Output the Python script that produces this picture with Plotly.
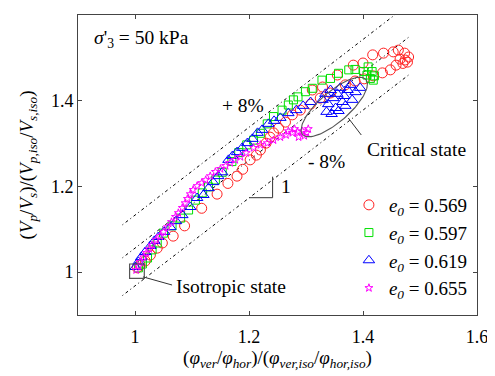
import numpy as np
import plotly.graph_objects as go

# ---------------- data ----------------
red_x = [1.004, 1.009, 1.018, 1.027, 1.039, 1.048, 1.067, 1.087, 1.117, 1.144, 1.163, 1.179, 1.189,
         1.202, 1.213, 1.220, 1.230, 1.237, 1.243, 1.252, 1.264, 1.276, 1.290, 1.308, 1.325, 1.343,
         1.369, 1.386, 1.402, 1.418, 1.434, 1.448, 1.458, 1.465, 1.474, 1.480, 1.473, 1.462, 1.453,
         1.436, 1.417, 1.400, 1.383, 1.355, 1.311, 1.329, 1.470, 1.478]
red_y = [1.010, 1.017, 1.026, 1.040, 1.056, 1.068, 1.084, 1.108, 1.149, 1.182, 1.207, 1.224, 1.240,
         1.262, 1.273, 1.285, 1.301, 1.315, 1.325, 1.336, 1.350, 1.367, 1.378, 1.392, 1.406, 1.418,
         1.437, 1.446, 1.451, 1.458, 1.465, 1.472, 1.483, 1.497, 1.495, 1.502, 1.511, 1.518, 1.514,
         1.511, 1.507, 1.488, 1.483, 1.460, 1.425, 1.432, 1.487, 1.490]

green_x = [1.006, 1.013, 1.022, 1.030, 1.039, 1.050, 1.065, 1.080, 1.094, 1.106, 1.118, 1.129, 1.141,
           1.153, 1.170, 1.182, 1.196, 1.208, 1.220, 1.232, 1.243, 1.258, 1.269, 1.278, 1.286, 1.299,
           1.311, 1.328, 1.343, 1.357, 1.375, 1.386, 1.401, 1.407, 1.413, 1.416, 1.418, 1.409, 1.420]
green_y = [1.010, 1.019, 1.033, 1.052, 1.068, 1.091, 1.108, 1.126, 1.145, 1.168, 1.185, 1.199, 1.215,
           1.233, 1.258, 1.279, 1.297, 1.308, 1.324, 1.346, 1.363, 1.378, 1.390, 1.402, 1.409, 1.421,
           1.429, 1.448, 1.452, 1.464, 1.472, 1.473, 1.468, 1.460, 1.452, 1.468, 1.448, 1.479, 1.458]

blue_x = [1.001, 1.006, 1.011, 1.018, 1.027, 1.034, 1.041, 1.051, 1.062, 1.072, 1.083, 1.097, 1.109,
          1.120, 1.129, 1.137, 1.146, 1.153, 1.164, 1.171, 1.179, 1.188, 1.197, 1.206, 1.215, 1.223,
          1.234, 1.244, 1.255, 1.269, 1.283, 1.295, 1.308, 1.329, 1.334, 1.339, 1.343, 1.348, 1.352,
          1.355, 1.360, 1.364, 1.367, 1.373, 1.378, 1.381, 1.336, 1.345, 1.357, 1.369, 1.387, 1.395]
blue_y = [1.012, 1.024, 1.035, 1.047, 1.061, 1.073, 1.082, 1.094, 1.105, 1.119, 1.133, 1.152, 1.173,
          1.180, 1.196, 1.210, 1.224, 1.233, 1.262, 1.271, 1.280, 1.290, 1.301, 1.311, 1.325, 1.332,
          1.346, 1.353, 1.360, 1.371, 1.378, 1.388, 1.397, 1.402, 1.416, 1.392, 1.425, 1.406, 1.383,
          1.416, 1.430, 1.397, 1.411, 1.425, 1.437, 1.402, 1.374, 1.369, 1.376, 1.388, 1.420, 1.430]

mag_x = [1.002, 1.006, 1.009, 1.015, 1.020, 1.025, 1.030, 1.037, 1.044, 1.050, 1.057, 1.064, 1.071,
         1.076, 1.083, 1.088, 1.092, 1.097, 1.102, 1.109, 1.117, 1.124, 1.132, 1.141, 1.150, 1.159,
         1.167, 1.176, 1.185, 1.195, 1.208, 1.220, 1.232, 1.243, 1.255, 1.265, 1.276, 1.285, 1.294,
         1.301, 1.304, 1.297, 1.287, 1.280, 1.269]
mag_y = [1.005, 1.014, 1.024, 1.035, 1.045, 1.054, 1.063, 1.075, 1.084, 1.094, 1.105, 1.117, 1.129,
         1.138, 1.150, 1.161, 1.171, 1.182, 1.192, 1.201, 1.208, 1.215, 1.224, 1.234, 1.241, 1.248,
         1.255, 1.262, 1.269, 1.278, 1.290, 1.297, 1.301, 1.308, 1.315, 1.320, 1.325, 1.327, 1.329,
         1.325, 1.334, 1.318, 1.315, 1.334, 1.329]

series_names = ["<i>e</i><sub><i>0</i></sub> = 0.569", "<i>e</i><sub><i>0</i></sub> = 0.597",
                "<i>e</i><sub><i>0</i></sub> = 0.619", "<i>e</i><sub><i>0</i></sub> = 0.655"]

# reference lines y = slope*x + offset
ref_x = [0.978, 1.483]
ref_slope = 1.025
ref_offsets = [0.108, 0.031, -0.057]

x_ticks = [1, 1.2, 1.4, 1.6]
y_ticks = [1, 1.2, 1.4, 1.6]

FONT = "Liberation Serif"

fig = go.Figure()

for off in ref_offsets:
    fig.add_trace(go.Scatter(x=ref_x, y=[ref_slope * v + off for v in ref_x], mode="lines",
                             line=dict(color="black", width=1, dash="1px,3px,3px,3px"),
                             showlegend=False, hoverinfo="skip"))

styles = [
    (red_x, red_y, "circle-open", "#ff2020", 10),
    (green_x, green_y, "square-open", "#00e000", 8),
    (blue_x, blue_y, "triangle-up-open", "#0000ff", 10),
    (mag_x, mag_y, "star-open", "#ff00ff", 6),
]
for (xs, ys, sym, col, sz), name in zip(styles, series_names):
    fig.add_trace(go.Scatter(x=xs, y=ys, mode="markers", name=name,
                             marker=dict(symbol=sym, color=col, size=sz, line=dict(color=col, width=1))))

# critical-state ellipse (geometry in pixel space -> data space)
PX_X = 570.0
PX_Y = 428.6
cx, cy = 1.3496, 1.3853
a_px, b_px, ang = 42.0, 15.0, np.deg2rad(41)
t = np.linspace(0, 2 * np.pi, 120)
ex = a_px * np.cos(t) * np.cos(ang) - b_px * np.sin(t) * np.sin(ang)
ey = a_px * np.cos(t) * np.sin(ang) + b_px * np.sin(t) * np.cos(ang)
fig.add_trace(go.Scatter(x=cx + ex / PX_X, y=cy + ey / PX_Y, mode="lines",
                         line=dict(color="#555555", width=1.1), showlegend=False, hoverinfo="skip"))

shapes = [
    dict(type="rect", x0=0.9905, x1=1.0163, y0=0.9856, y1=1.019, line=dict(color="#555555", width=1.2)),
    dict(type="line", x0=1.014, y0=0.989, x1=1.065, y1=0.970, line=dict(color="#333333", width=1)),
    dict(type="line", x0=1.3742, y0=1.3597, x1=1.397, y1=1.320, line=dict(color="#333333", width=1)),
    dict(type="line", x0=1.2005, y0=1.1737, x1=1.2414, y1=1.1737, line=dict(color="#333333", width=1)),
    dict(type="line", x0=1.2414, y0=1.1737, x1=1.2414, y1=1.2227, line=dict(color="#333333", width=1)),
]

annotations = [
    dict(x=0.9246, y=1.544, text="<i>σ</i>'<sub>3</sub> = 50 kPa", xanchor="left"),
    dict(x=1.190, y=1.388, text="+ 8%"),
    dict(x=1.336, y=1.259, text="- 8%"),
    dict(x=1.2655, y=1.1987, text="1"),
    dict(x=1.4935, y=1.2873, text="Critical state"),
    dict(x=1.168, y=0.966, text="Isotropic state"),
]
for an in annotations:
    an.update(xref="x", yref="y", showarrow=False,
              font=dict(family=FONT, size=19.5, color="black"))

fig.update_layout(
    width=487, height=368,
    margin=dict(l=70, r=18, t=7, b=61),
    paper_bgcolor="white", plot_bgcolor="white",
    font=dict(family=FONT, size=19, color="black"),
    shapes=shapes, annotations=annotations,
    showlegend=True,
    legend=dict(x=0.679, y=0.43, xanchor="left", yanchor="top", bgcolor="rgba(0,0,0,0)",
                font=dict(family=FONT, size=19), borderwidth=0, itemsizing="trace"),
    xaxis=dict(range=[0.9, 1.6], tickvals=x_ticks, ticktext=["1", "1.2", "1.4", "1.6"],
               showline=True, mirror="ticks", linecolor="#444444", linewidth=1,
               ticks="inside", ticklen=4, tickcolor="#444444", showgrid=False, zeroline=False,
               tickfont=dict(size=18), ticklabelstandoff=5,
               title=dict(text="(<i>φ</i><sub><i>ver</i></sub>/<i>φ</i><sub><i>hor</i></sub>)/(<i>φ</i><sub><i>ver,iso</i></sub>/<i>φ</i><sub><i>hor,iso</i></sub>)",
                          standoff=2, font=dict(size=19))),
    yaxis=dict(range=[0.9, 1.6], tickvals=y_ticks, ticktext=["1", "1.2", "1.4", "1.6"],
               showline=True, mirror="ticks", linecolor="#444444", linewidth=1,
               ticks="inside", ticklen=4, tickcolor="#444444", showgrid=False, zeroline=False,
               tickfont=dict(size=18),
               title=dict(text="(<i>V</i><sub><i>p</i></sub>/<i>V</i><sub><i>s</i></sub>)/(<i>V</i><sub><i>p,iso</i></sub>/<i>V</i><sub><i>s,iso</i></sub>)",
                          standoff=12, font=dict(size=19))),
)

fig.write_html("out.html")
